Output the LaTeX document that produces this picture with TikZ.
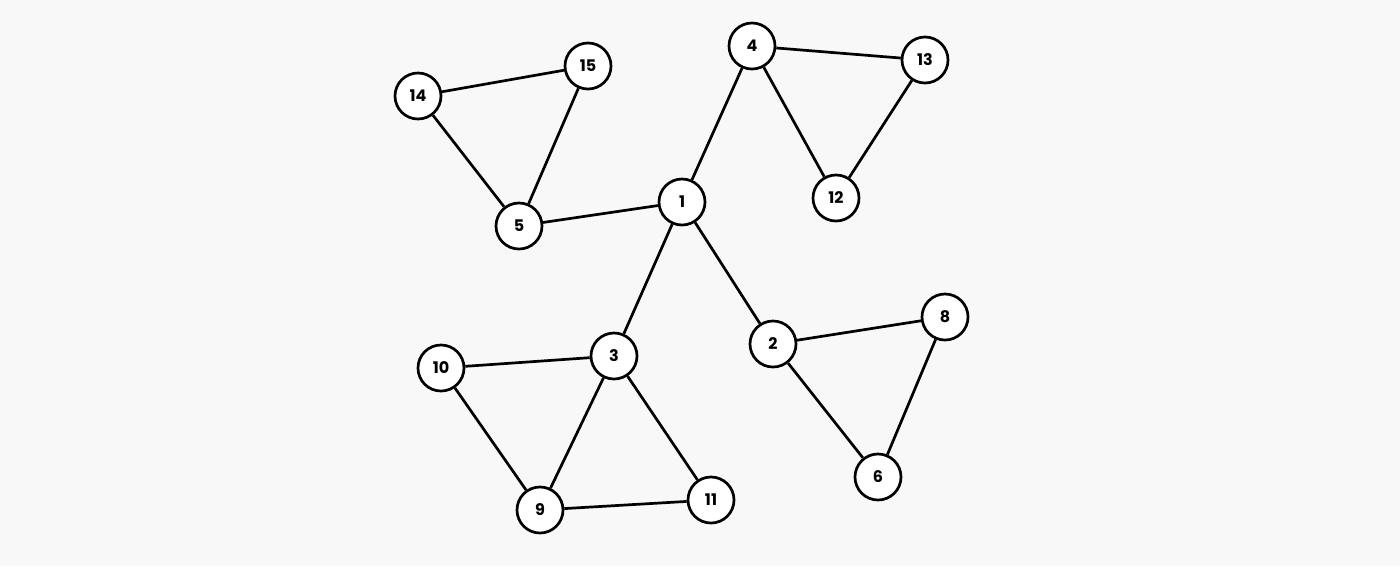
\documentclass[tikz,border=0pt]{standalone}
\usepackage{fontspec}
\setmainfont{Poppins}
\begin{document}
\begin{tikzpicture}[x=1pt,y=-1pt,
  vtx/.style={circle,draw=black,fill=white,line width=2.7pt,minimum size=46pt,inner sep=0pt,font=\fontsize{16}{16}\selectfont\bfseries},
  edge/.style={line width=2.7pt,black}]
\fill[fill={rgb,255:red,248;green,248;blue,248}] (0,0) rectangle (1400,566);
\useasboundingbox (0,0) rectangle (1400,566);
\node[vtx] (n4) at (752,46) {4};
\node[vtx] (n13) at (925,60) {13};
\node[vtx] (n15) at (588,66) {15};
\node[vtx] (n14) at (418,96) {14};
\node[vtx] (n12) at (836,198) {12};
\node[vtx] (n1) at (682,202) {1};
\node[vtx] (n5) at (519,226) {5};
\node[vtx] (n8) at (945,317) {8};
\node[vtx] (n2) at (773,344) {2};
\node[vtx] (n3) at (614,356) {3};
\node[vtx] (n10) at (441,368) {10};
\node[vtx] (n6) at (878,477) {6};
\node[vtx] (n11) at (711,500) {11};
\node[vtx] (n9) at (540,510) {9};
\draw[edge] (n1) -- (n4);
\draw[edge] (n1) -- (n5);
\draw[edge] (n1) -- (n3);
\draw[edge] (n1) -- (n2);
\draw[edge] (n4) -- (n13);
\draw[edge] (n4) -- (n12);
\draw[edge] (n13) -- (n12);
\draw[edge] (n14) -- (n15);
\draw[edge] (n14) -- (n5);
\draw[edge] (n15) -- (n5);
\draw[edge] (n2) -- (n8);
\draw[edge] (n2) -- (n6);
\draw[edge] (n8) -- (n6);
\draw[edge] (n3) -- (n10);
\draw[edge] (n3) -- (n9);
\draw[edge] (n3) -- (n11);
\draw[edge] (n10) -- (n9);
\draw[edge] (n9) -- (n11);
\end{tikzpicture}
\end{document}
